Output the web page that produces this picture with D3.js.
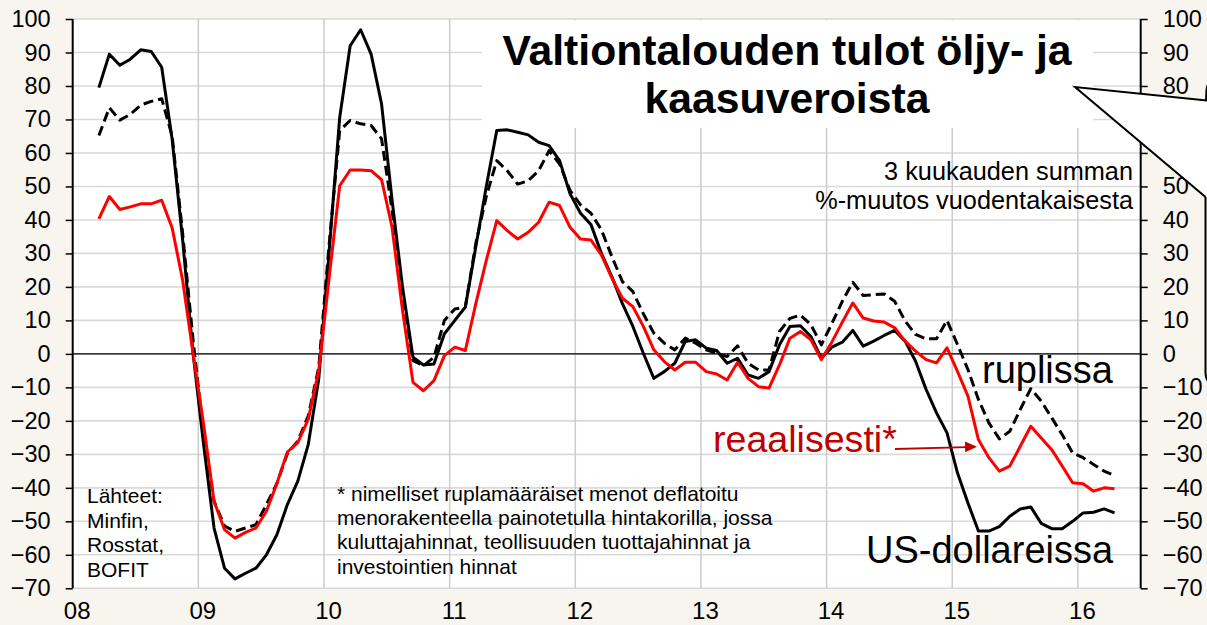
<!DOCTYPE html>
<html>
<head>
<meta charset="utf-8">
<script src="https://cdn.jsdelivr.net/npm/d3@7"></script>
<style>
  html, body { margin: 0; padding: 0; background: #f8f4ee; }
  svg { display: block; }
  text { font-family: "Liberation Sans", Arial, sans-serif; }
</style>
</head>
<body>
<svg id="chart" width="1207" height="625"></svg>
<script>
// ---- Data (monthly, Mar 2008 - Apr 2016), % change y/y of 3-month sum ----
const startYear = 2008, startMonth = 3; // first observation: March 2008
const yearTicks = [2008, 2009, 2010, 2011, 2012, 2013, 2014, 2015, 2016];
const yearLabels = ["08", "09", "10", "11", "12", "13", "14", "15", "16"];
const yTicks = [-70, -60, -50, -40, -30, -20, -10, 0, 10, 20, 30, 40, 50, 60, 70, 80, 90, 100];

const usd = [79.5, 89.5, 86.2, 88, 90.8, 90.3, 85.6, 64, 34, 0,
  -27, -52, -64, -67.2, -65.5, -64, -60, -54, -45, -38, -27, -7.5,
  31, 70.6, 92, 96.8, 89.5, 74.6, 46, 20, -1, -3.3, -3, 6,
  10, 14, 32, 50, 66.7, 66.9, 66.2, 65.4, 63.2, 62.2, 57.7, 47.8,
  42, 38.6, 30, 23, 15, 8.2, 0.2, -7.3, -5.3, -2.8, 3.7, 4.2,
  1.7, 1, -2.8, -1.3, -6.3, -7.3, -5.3, 2.7, 8.2, 8.4, 5.2, -1.3,
  2, 3.5, 7, 2.3, 3.8, 5.5, 7, 3.8, -2.2, -10.6, -17.6, -23.6,
  -35.5, -44.5, -52.9, -52.9, -51.6, -48.5, -46.3, -45.7, -50.6, -52.2, -52.2, -50,
  -47.5, -47.3, -46.3, -47.5];

const rub = [65.2, 73.5, 69.8, 71.5, 74.3, 75.4, 76.2, 65, 36, 4,
  -24, -44, -51.4, -53, -52, -51, -45, -38.7, -29.8, -26, -18.5, -4,
  33, 66.7, 69.7, 68.7, 68.2, 64.2, 43, 18, -2, -3.5, -1, 10,
  13.4, 14, 33, 47, 57.7, 54.7, 50.7, 51.7, 54.7, 60.7, 56.7, 48.8,
  44.5, 42, 37, 29, 21.6, 18.6, 12, 6.2, 3.2, 1.2, 4.7, 3.2,
  1.2, 0.2, -0.8, 2.4, -2.8, -4.8, -4.8, 6.7, 10.6, 11.6, 8.7, 2.7,
  9, 15.7, 21.4, 17.4, 17.7, 17.9, 15.7, 9.8, 5.8, 4.5, 4.5, 10,
  2.8, -4.7, -13.6, -20.6, -25.4, -23.1, -16.6, -10.4, -14.1, -19.1, -24.1, -29.6,
  -31, -33, -35, -36.3];

const real = [40.3, 47, 43.1, 43.9, 44.8, 44.8, 45.9, 37.6, 22, 0,
  -21, -44, -52.5, -55, -53.3, -52, -47, -38.7, -29.3, -26.5, -19.5, -5,
  23, 50.2, 54.9, 54.9, 54.7, 52, 37.8, 13, -8.5, -11, -8, -0.5,
  2, 1, 15, 27.9, 39.8, 36.8, 34.3, 36.3, 39.3, 45.3, 44.3, 37.8,
  34.3, 34, 29.5, 22.6, 16.6, 14.1, 8.2, 1.2, -2.3, -4.8, -2.5, -2.5,
  -5.3, -6, -7.8, -2.5, -7.3, -9.8, -10.2, -3.3, 4.7, 6.7, 4.2, -1.7,
  3.5, 9.5, 15.2, 10.7, 9.8, 9.5, 7.8, 3.8, 0.8, -1.7, -2.7, 1.8,
  -5.2, -12.6, -25.6, -31, -35, -33.5, -27.6, -21.6, -25.1, -28.6, -33.5, -38.5,
  -38.8, -41, -40, -40.3];

const titleLines = ["Valtiontalouden tulot öljy- ja", "kaasuveroista"];
const subtitleLines = ["3 kuukauden summan", "%-muutos vuodentakaisesta"];
const sourceLines = ["Lähteet:", "Minfin,", "Rosstat,", "BOFIT"];
const noteLines = ["* nimelliset ruplamääräiset menot deflatoitu",
  "menorakenteella painotetulla hintakorilla, jossa",
  "kuluttajahinnat, teollisuuden tuottajahinnat ja",
  "investointien hinnat"];

// ---- Layout ----
const svg = d3.select("#chart");
const L = 72.7, R = 1140.7, T = 19, B = 588.3;
const x = d3.scaleLinear().domain([2008, 2016.5]).range([L, R]);
const y = d3.scaleLinear().domain([-70, 100]).range([B, T]);
const tOf = i => startYear + (startMonth - 1 + i + 0.5) / 12;

svg.append("rect").attr("width", 1207).attr("height", 625).attr("fill", "#f8f4ee");
svg.append("rect").attr("x", L).attr("y", T).attr("width", R - L).attr("height", B - T).attr("fill", "#ffffff");

// gridlines
svg.append("g").selectAll("line").data(yTicks).join("line")
  .attr("x1", L).attr("x2", R)
  .attr("y1", d => y(d)).attr("y2", d => y(d))
  .attr("stroke", "#d9d9d9").attr("stroke-width", 1.6);
svg.append("g").selectAll("line").data(yearTicks.slice(1)).join("line")
  .attr("x1", d => x(d)).attr("x2", d => x(d))
  .attr("y1", T).attr("y2", B)
  .attr("stroke", "#cccccc").attr("stroke-width", 1.5);

// zero line
svg.append("line").attr("x1", L).attr("x2", R).attr("y1", y(0)).attr("y2", y(0))
  .attr("stroke", "#000").attr("stroke-width", 1.4);

// series
const line = d3.line().x((d, i) => x(tOf(i))).y(d => y(d));
svg.append("path").datum(rub).attr("d", line).attr("fill", "none")
  .attr("stroke", "#000").attr("stroke-width", 3).attr("stroke-dasharray", "10,5")
  .attr("stroke-linejoin", "round");
svg.append("path").datum(usd).attr("d", line).attr("fill", "none")
  .attr("stroke", "#000").attr("stroke-width", 3).attr("stroke-linejoin", "round");
svg.append("path").datum(real).attr("d", line).attr("fill", "none")
  .attr("stroke", "#ff0000").attr("stroke-width", 3).attr("stroke-linejoin", "round");

// title box
svg.append("rect").attr("x", 482).attr("y", 20).attr("width", 611).attr("height", 108).attr("fill", "#fff");
svg.append("g").selectAll("text").data(titleLines).join("text")
  .attr("x", 787).attr("y", (d, i) => 65 + i * 48)
  .attr("text-anchor", "middle").attr("font-size", 42.7).attr("font-weight", "bold")
  .attr("fill", "#000").text(d => d);

// subtitle
svg.append("g").selectAll("text").data(subtitleLines).join("text")
  .attr("x", 1133).attr("y", (d, i) => 180 + i * 29)
  .attr("text-anchor", "end").attr("font-size", 25.3).attr("fill", "#000").text(d => d);

// axes
const yAxisL = d3.axisLeft(y).tickValues(yTicks).tickSize(7).tickPadding(15).tickFormat(d3.format("d"));
const gL = svg.append("g").attr("transform", `translate(${L},0)`).call(yAxisL);
const yAxisR = d3.axisRight(y).tickValues(yTicks).tickSize(7).tickPadding(15).tickFormat(d3.format("d"));
const gR = svg.append("g").attr("transform", `translate(${R},0)`).call(yAxisR);
[gL, gR].forEach(g => {
  g.select(".domain").attr("stroke", "#000").attr("stroke-width", 2);
  g.selectAll(".tick line").attr("stroke", "#000").attr("stroke-width", 1.5);
  g.selectAll(".tick text").attr("font-size", 23.5).attr("fill", "#000")
    .attr("font-family", "'Liberation Sans', Arial, sans-serif");
});
gL.select(".domain").attr("d", `M0,${T}V${B}`);
gR.select(".domain").attr("d", `M0,${T}V${B}`);

const xAxis = d3.axisBottom(x).tickValues(yearTicks).tickSize(0).tickPadding(14)
  .tickFormat((d, i) => yearLabels[i]);
const gX = svg.append("g").attr("transform", `translate(0,${B})`).call(xAxis);
gX.select(".domain").remove();
gX.selectAll(".tick text").attr("font-size", 24).attr("fill", "#000").attr("dx", 4)
  .attr("font-family", "'Liberation Sans', Arial, sans-serif");

// callout pointer
svg.append("path").attr("d", "M1075,87 L1207,100.5 L1207,197 Z").attr("fill", "#fff").attr("stroke", "none");
svg.append("path").attr("d", "M1207,100.5 L1075,87 L1205.5,197")
  .attr("fill", "none").attr("stroke", "#000").attr("stroke-width", 2);
svg.append("path").attr("d", "M1205.5,197 L1205.5,372 Q1205.5,380 1210,383")
  .attr("fill", "none").attr("stroke", "#000").attr("stroke-width", 2);
svg.append("path").attr("d", "M1206,100.5 L1206.5,90 Q1207.5,82 1212,80")
  .attr("fill", "none").attr("stroke", "#000").attr("stroke-width", 2);

// source and note
svg.append("g").selectAll("text").data(sourceLines).join("text")
  .attr("x", 87).attr("y", (d, i) => 503 + i * 24.5)
  .attr("font-size", 21).attr("fill", "#000").text(d => d);
svg.append("g").selectAll("text").data(noteLines).join("text")
  .attr("x", 337).attr("y", (d, i) => 501 + i * 24.2)
  .attr("font-size", 21).attr("fill", "#000").text(d => d);

// series labels
svg.append("text").attr("x", 982).attr("y", 383).attr("font-size", 38).attr("fill", "#000").text("ruplissa");
svg.append("text").attr("x", 866).attr("y", 563).attr("font-size", 38).attr("fill", "#000").text("US-dollareissa");
svg.append("text").attr("x", 713).attr("y", 452).attr("font-size", 37.6).attr("fill", "#c00000").text("reaalisesti*");

// arrow
svg.append("line").attr("x1", 895).attr("y1", 449).attr("x2", 967).attr("y2", 447.2)
  .attr("stroke", "#c00000").attr("stroke-width", 1.8);
svg.append("path").attr("d", "M977,446.8 L965,441.5 L965.2,452.3 Z").attr("fill", "#c00000");
</script>
</body>
</html>
